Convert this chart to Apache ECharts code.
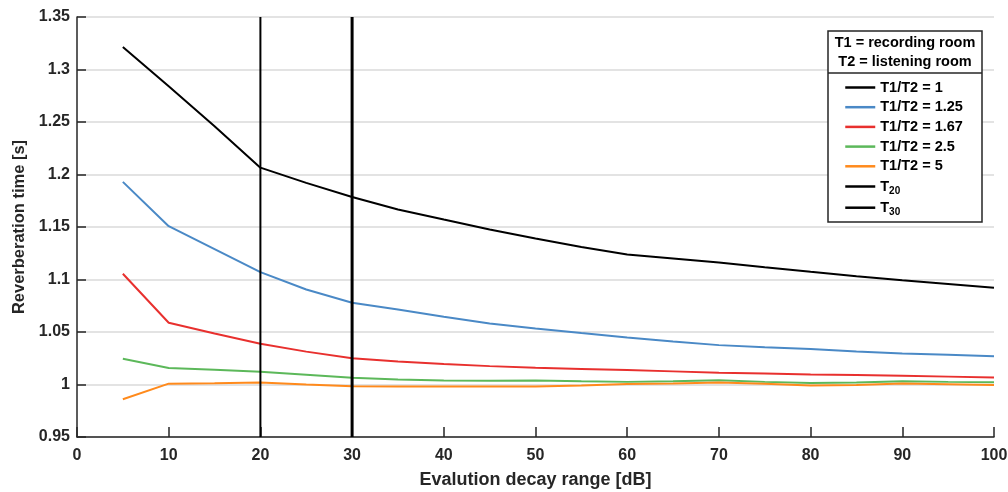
<!DOCTYPE html>
<html>
<head>
<meta charset="utf-8">
<script src="https://cdn.jsdelivr.net/npm/echarts@6/dist/echarts.min.js"></script>
<style>
html,body{margin:0;padding:0;background:#fff;}
#chart{width:1008px;height:492px;}
</style>
</head>
<body>
<div id="chart"></div>
<script>
// ---- data ----
const xValues = [5,10,15,20,25,30,35,40,45,50,55,60,65,70,75,80,85,90,95,100];
const ratio1    = [1.3215,1.284,1.246,1.2065,1.192,1.1785,1.1667,1.1571,1.1477,1.139,1.131,1.1238,1.120,1.1162,1.1117,1.1073,1.103,1.0993,1.0957,1.0921];
const ratio125  = [1.193,1.1508,1.129,1.107,1.0905,1.0779,1.0715,1.0646,1.058,1.0534,1.049,1.0448,1.041,1.0375,1.0355,1.0337,1.0315,1.0296,1.0283,1.027];
const ratio167  = [1.1055,1.0588,1.0485,1.0389,1.0313,1.0249,1.022,1.0195,1.0175,1.016,1.0148,1.0137,1.0125,1.0112,1.0104,1.0096,1.009,1.0083,1.0075,1.0067];
const ratio25   = [1.0246,1.0157,1.014,1.0122,1.0094,1.0065,1.0048,1.0037,1.0035,1.0038,1.003,1.0025,1.003,1.004,1.0025,1.0015,1.002,1.003,1.0025,1.0022];
const ratio5    = [0.986,1.0008,1.0012,1.0018,1.0,0.9983,0.998,0.998,0.9982,0.998,0.999,1.0005,1.001,1.002,1.0008,0.999,0.9995,1.001,1.0003,0.9995];
const t20X = 20;
const t30X = 30;
const seriesNames = ['T1/T2 = 1','T1/T2 = 1.25','T1/T2 = 1.67','T1/T2 = 2.5','T1/T2 = 5'];
const seriesValues = [ratio1, ratio125, ratio167, ratio25, ratio5];
const seriesColors = ['#000000','#4a89c6','#e8302e','#5cb85a','#ff8a1c'];
const yMin = 0.95, yMax = 1.35, yStep = 0.05;
const xMin = 0, xMax = 100, xStep = 10;

const FONT = 'Liberation Sans, Arial, sans-serif';
const AX = '#262626';

const chart = echarts.init(document.getElementById('chart'));

const series = seriesNames.map((n,i)=>({
  name:n, type:'line', symbol:'none', smooth:false,
  data: xValues.map((x,j)=>[x, seriesValues[i][j]]),
  lineStyle:{color:seriesColors[i], width:2},
  itemStyle:{color:seriesColors[i]},
  z:3
}));
series.push({
  name:'T20', type:'line', symbol:'none',
  data:[[t20X,yMin],[t20X,yMax]],
  lineStyle:{color:'#000',width:2}, itemStyle:{color:'#000'}, z:4
});
series.push({
  name:'T30', type:'line', symbol:'none',
  data:[[t30X,yMin],[t30X,yMax]],
  lineStyle:{color:'#000',width:3}, itemStyle:{color:'#000'}, z:4
});

const option = {
  animation:false,
  backgroundColor:'#fff',
  grid:{left:77, right:14, top:17, bottom:55, containLabel:false, outerBoundsMode:'none'},
  xAxis:{
    type:'value', min:xMin, max:xMax, interval:xStep,
    name:'Evalution decay range [dB]', nameLocation:'middle', nameGap:34,
    nameTextStyle:{fontFamily:FONT, fontWeight:'bold', fontSize:18, color:AX},
    axisLine:{show:true, onZero:false, lineStyle:{color:AX, width:1.5}},
    axisTick:{show:true, inside:true, length:10, lineStyle:{color:AX, width:1.5}},
    axisLabel:{fontFamily:FONT, fontWeight:'bold', fontSize:16, color:AX, margin:11},
    splitLine:{show:false}
  },
  yAxis:{
    type:'value', min:yMin, max:yMax, interval:yStep,
    name:'Reverberation time [s]', nameLocation:'middle', nameGap:49,
    nameTextStyle:{fontFamily:FONT, fontWeight:'bold', fontSize:16.5, color:AX},
    axisLine:{show:true, onZero:false, lineStyle:{color:AX, width:1.5}},
    axisTick:{show:true, inside:true, length:9, lineStyle:{color:AX, width:1.5}},
    axisLabel:{fontFamily:FONT, fontWeight:'bold', fontSize:16, color:AX, margin:7,
      formatter: v => String(+v.toFixed(2))},
    splitLine:{show:true, lineStyle:{color:'#e3e3e3', width:2}}
  },
  legend:[
    {
      data:seriesNames, orient:'vertical', left:844, top:80, z:30, padding:0,
      itemWidth:30, itemHeight:14, itemGap:4.7,
      itemStyle:{opacity:0},
      lineStyle:{width:2.5},
      textStyle:{fontFamily:FONT, fontWeight:'bold', fontSize:14.5, color:'#000'},
      selectedMode:false
    },
    {
      data:['T20','T30'], orient:'vertical', left:844, top:179, z:30, padding:0,
      itemWidth:30, itemHeight:16, itemGap:3.7,
      itemStyle:{opacity:0},
      lineStyle:{width:2.5},
      formatter: n => '{a|T}{b|' + n.slice(1) + '}',
      textStyle:{fontFamily:FONT, fontWeight:'bold', fontSize:14.5, color:'#000',
        rich:{
          a:{fontFamily:FONT, fontWeight:'bold', fontSize:14.5, color:'#000'},
          b:{fontFamily:FONT, fontWeight:'bold', fontSize:10, color:'#000', padding:[10,0,0,0]}
        }},
      selectedMode:false
    }
  ],
  graphic:[
    {type:'rect', shape:{x:828, y:31, width:154, height:191},
     style:{fill:'#fff', stroke:AX, lineWidth:1.5}, z:10, silent:true},
    {type:'line', shape:{x1:828, y1:73, x2:982, y2:73},
     style:{stroke:AX, lineWidth:1.5}, z:11, silent:true},
    {type:'text', x:905, y:43, z:12,
     style:{text:'T1 = recording room', font:'bold 14.5px '+FONT, fill:'#000', align:'center', verticalAlign:'middle'}},
    {type:'text', x:905, y:62, z:12,
     style:{text:'T2 = listening room', font:'bold 14.5px '+FONT, fill:'#000', align:'center', verticalAlign:'middle'}}
  ],
  series: series
};
chart.setOption(option);
</script>
</body>
</html>
